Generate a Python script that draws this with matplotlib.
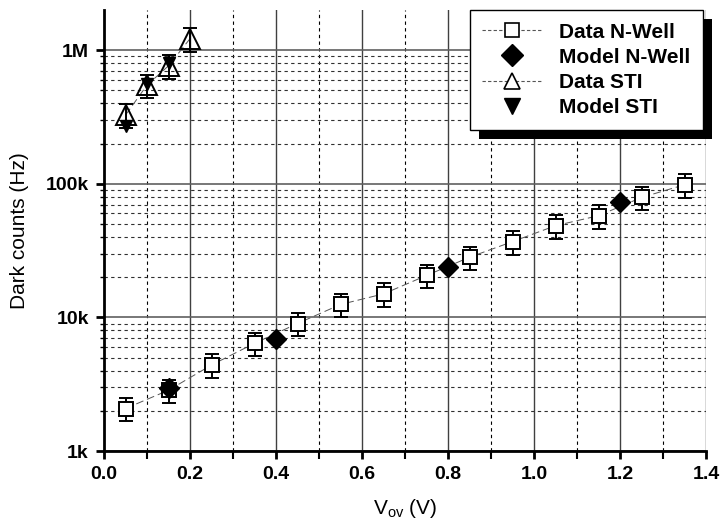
import numpy as np
import matplotlib
matplotlib.use('Agg')
import matplotlib.pyplot as plt
from matplotlib.patches import Rectangle
from matplotlib.transforms import IdentityTransform
from matplotlib.ticker import FixedLocator, FuncFormatter, NullFormatter

plt.rcParams['font.family'] = ['Liberation Sans', 'DejaVu Sans']

# Data N-Well (measured, with ~20% error)
nwell_v = [0.05, 0.15, 0.25, 0.35, 0.45, 0.55, 0.65, 0.75, 0.85, 0.95, 1.05, 1.15, 1.25, 1.35]
nwell_counts = [2.08e3, 2.85e3, 4.4e3, 6.4e3, 9.0e3, 12.5e3, 15.0e3, 20.6e3, 28.2e3,
                36.9e3, 48.6e3, 57.7e3, 79e3, 98.4e3]

# Model N-Well
model_nwell_v = [0.15, 0.4, 0.8, 1.2]
model_nwell_counts = [2.97e3, 6.93e3, 23.7e3, 72.5e3]

# Data STI
sti_v = [0.05, 0.1, 0.15, 0.2]
sti_counts = [327e3, 548e3, 764e3, 1.22e6]

# Model STI
model_sti_v = [0.05, 0.1, 0.15]
model_sti_counts = [272e3, 557e3, 800e3]

rel_err = 0.2

x_major = [0.0, 0.2, 0.4, 0.6, 0.8, 1.0, 1.2, 1.4]
x_minor = [0.1, 0.3, 0.5, 0.7, 0.9, 1.1, 1.3]
decades = [1e3, 1e4, 1e5, 1e6]
decade_labels = ['1k', '10k', '100k', '1M']
y_minor = [d * m for d in decades for m in range(2, 10) if d * m < 2e6]

fig = plt.figure(figsize=(7.22, 5.25), dpi=100)
ax = fig.add_axes([104 / 722, 1 - 451 / 525, (706 - 104) / 722, (451 - 10) / 525])

ax.set_yscale('log')

# grid
for v in x_major[1:]:
    ax.axvline(v, color='#404040', lw=1.0, zorder=0)
for v in x_minor:
    ax.axvline(v, color='black', lw=0.8, ls=(0, (3, 3)), zorder=0)
for dec in decades:
    ax.axhline(dec, color='#606060', lw=1.2, zorder=0)
for v in y_minor:
    ax.axhline(v, color='#303030', lw=0.8, ls=(0, (3, 3)), zorder=0)

nw = np.array(nwell_counts)
st = np.array(sti_counts)

ax.plot(nwell_v, nwell_counts, color='#555555', lw=0.7, ls=(0, (8, 4)), zorder=2)
ax.errorbar(nwell_v, nwell_counts, yerr=rel_err * nw, fmt='none', ecolor='black',
            elinewidth=1.4, capsize=5, capthick=1.4, zorder=3)
ax.plot(nwell_v, nwell_counts, ls='none', marker='s', ms=10, mfc='white', mec='black',
        mew=1.4, zorder=4)

ax.plot(sti_v, sti_counts, color='#555555', lw=0.7, ls=(0, (8, 4)), zorder=2)
ax.errorbar(sti_v, sti_counts, yerr=rel_err * st, fmt='none', ecolor='black',
            elinewidth=1.4, capsize=5, capthick=1.4, zorder=3)
ax.plot(model_sti_v, model_sti_counts, ls='none', marker='v', ms=9, color='black', zorder=4)
ax.plot(sti_v, sti_counts, ls='none', marker='^', ms=14, mfc='none', mec='black',
        mew=1.4, zorder=5)

ax.plot(model_nwell_v, model_nwell_counts, ls='none', marker='D', ms=10, color='black', zorder=5)

ax.set_xlim(0, 1.4)
ax.set_ylim(1e3, 2e6)

# axes styling
for s in ['top', 'right']:
    ax.spines[s].set_visible(False)
ax.spines['left'].set_linewidth(2)
ax.spines['bottom'].set_linewidth(2)
ax.xaxis.set_major_locator(FixedLocator(x_major))
ax.xaxis.set_minor_locator(FixedLocator(x_minor))
ax.xaxis.set_major_formatter(FuncFormatter(lambda v, p: f'{v:.1f}'))
ax.yaxis.set_major_locator(FixedLocator(decades))
ax.yaxis.set_major_formatter(FuncFormatter(lambda v, p: decade_labels[decades.index(v)]
                                           if v in decades else ''))
ax.yaxis.set_minor_locator(FixedLocator(y_minor))
ax.yaxis.set_minor_formatter(NullFormatter())
ax.tick_params(axis='both', which='major', direction='out', length=6, width=2,
               labelsize=14, pad=5)
ax.tick_params(axis='x', which='minor', direction='out', length=6, width=1.5)
ax.tick_params(axis='y', which='minor', direction='out', length=3, width=1)
for lab in ax.get_xticklabels() + ax.get_yticklabels():
    lab.set_fontweight('bold')

ax.set_xlabel(r'V$_{\mathregular{ov}}$ (V)', fontsize=15, labelpad=10)
ax.set_ylabel('Dark counts (Hz)', fontsize=15, labelpad=12)

# legend
h1, = ax.plot([], [], color='#555555', lw=0.8, ls=(0, (3, 2)), marker='s', ms=10,
              mfc='white', mec='black', mew=1.2)
h2, = ax.plot([], [], ls='none', marker='D', ms=11, color='black')
h3, = ax.plot([], [], color='#555555', lw=0.8, ls=(0, (3, 2)), marker='^', ms=12,
              mfc='white', mec='black', mew=1.2)
h4, = ax.plot([], [], ls='none', marker='v', ms=11, color='black')
leg = ax.legend([h1, h2, h3, h4], ['Data N-Well', 'Model N-Well', 'Data STI', 'Model STI'],
                loc='upper right', bbox_to_anchor=(703 / 722, 1 - 10 / 525),
                bbox_transform=fig.transFigure, borderaxespad=0, fancybox=False,
                framealpha=1, edgecolor='black', prop={'weight': 'bold', 'size': 15},
                handlelength=2.9, handletextpad=0.8, labelspacing=0.3, borderpad=0.6)
leg.get_frame().set_linewidth(1.0)
leg.set_zorder(10)

fig.canvas.draw()
bb = leg.get_window_extent()
shadow = Rectangle((bb.x0 + 9, bb.y0 - 9), bb.width, bb.height, transform=IdentityTransform(),
                   facecolor='black', edgecolor='none', zorder=9, clip_on=False)
ax.add_patch(shadow)

fig.savefig('out.png', dpi=100)
